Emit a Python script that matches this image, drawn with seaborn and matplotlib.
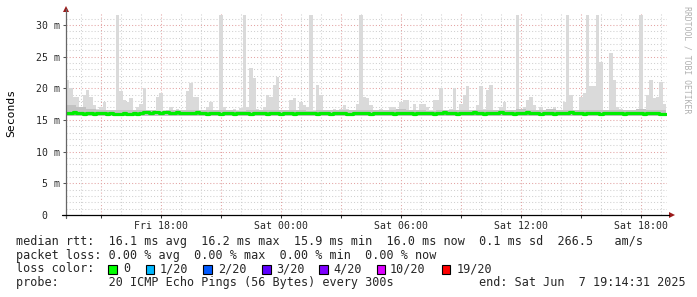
import numpy as np
import pandas as pd
import matplotlib
matplotlib.use("Agg")
import matplotlib.pyplot as plt
import seaborn as sns
from matplotlib.patches import Rectangle, Polygon
from matplotlib.lines import Line2D

# ---------------- data (ms, 10-minute steps over 30 hours) ----------------
smoke_hi = [
    21.3, 20.0, 18.7, 18.7, 17.1, 18.9, 19.7, 18.7, 17.4, 16.8, 17.1, 17.9,
    16.6, 16.3, 16.6, 31.6, 19.5, 18.2, 17.9, 18.4, 16.6, 17.1, 17.6, 20.0,
    16.6, 16.6, 16.6, 18.7, 19.2, 16.6, 16.6, 17.1, 16.6, 16.8, 16.6, 16.6,
    19.5, 20.8, 18.7, 18.7, 16.6, 16.6, 17.1, 17.9, 16.6, 16.6, 31.6, 17.1,
    16.6, 16.6, 16.8, 16.6, 16.9, 31.6, 17.1, 23.2, 21.6, 16.8, 16.6, 17.1,
    19.0, 18.7, 20.5, 21.8, 16.6, 16.6, 16.6, 18.2, 18.4, 16.6, 17.9, 17.4,
    17.0, 31.6, 16.6, 20.5, 19.0, 16.6, 16.6, 16.6, 16.8, 16.6, 16.8, 17.4,
    16.8, 16.6, 16.6, 17.6, 31.6, 18.7, 18.4, 17.4, 16.6, 16.6, 16.8, 16.6,
    16.6, 17.1, 17.1, 16.6, 17.9, 18.2, 18.2, 16.6, 17.6, 16.6, 17.6, 17.6,
    17.1, 16.6, 18.2, 18.2, 20.0, 16.6, 16.6, 16.8, 20.0, 16.6, 17.6, 19.0,
    20.3, 16.6, 16.6, 17.4, 20.3, 16.8, 19.7, 20.5, 16.6, 16.6, 17.1, 17.9,
    16.6, 16.6, 16.6, 31.6, 16.6, 17.1, 18.2, 18.7, 17.4, 16.6, 17.1, 16.6,
    16.6, 16.8, 17.1, 16.6, 16.6, 17.9, 31.6, 19.0, 16.6, 16.6, 18.7, 19.2,
    31.6, 20.3, 20.3, 31.6, 24.2, 16.6, 16.6, 25.5, 21.3, 17.1, 16.8, 16.6,
    16.6, 16.6, 16.6, 16.6, 31.6, 16.6, 19.0, 21.3, 18.4, 18.7, 21.0, 17.6,
]

# darker inner smoke (30-minute steps)
smoke_mid = [
    17.4, 17.0, 16.7, 16.5, 16.5, 16.6, 16.5, 16.6, 16.5, 16.4,
    16.5, 16.5, 16.6, 16.5, 16.5, 16.5, 16.6, 16.4, 16.5, 16.5,
    16.5, 16.6, 16.5, 16.5, 16.4, 16.5, 16.6, 16.5, 16.5, 16.5,
    16.6, 16.5, 16.5, 16.7, 16.5, 16.5, 16.4, 16.5, 16.6, 16.5,
    16.5, 16.5, 16.6, 16.5, 16.5, 16.7, 16.6, 16.5, 16.8, 16.6,
    16.5, 16.6, 16.5, 16.5, 16.5, 16.6, 16.5, 16.7, 16.5, 16.6,
]

# lower edge of the smoke (hourly steps)
smoke_lo = [
    15.6, 15.6, 15.7, 15.6, 15.6, 15.7, 15.6, 15.6, 15.6, 15.7,
    15.6, 15.6, 15.6, 15.6, 15.7, 15.6, 15.6, 15.6, 15.6, 15.7,
    15.6, 15.6, 15.6, 15.7, 15.6, 15.6, 15.6, 15.6, 15.6, 15.6,
]

median_rtt = [
    16.1, 16.1, 16.2, 16.1, 16.1, 16.0, 16.1, 16.1, 16.0, 16.1, 16.1, 16.1,
    16.0, 16.1, 16.0, 16.0, 16.0, 16.1, 16.0, 16.0, 16.1, 16.0, 16.1, 16.2,
    16.2, 16.1, 16.2, 16.2, 16.1, 16.2, 16.2, 16.1, 16.1, 16.2, 16.1, 16.1,
    16.1, 16.1, 16.1, 16.2, 16.1, 16.1, 16.0, 16.1, 16.1, 16.1, 16.0, 16.1,
    16.1, 16.1, 16.0, 16.1, 16.1, 16.1, 16.1, 16.0, 16.1, 16.1, 16.1, 16.1,
    16.0, 16.1, 16.1, 16.1, 16.0, 16.1, 16.1, 16.1, 16.0, 16.1, 16.1, 16.1,
    16.1, 16.1, 16.1, 16.0, 16.1, 16.1, 16.1, 16.0, 16.1, 16.1, 16.1, 16.1,
    16.0, 16.0, 16.1, 16.1, 16.1, 16.1, 16.1, 16.0, 16.1, 16.1, 16.1, 16.1,
    16.1, 16.1, 16.0, 16.1, 16.1, 16.1, 16.1, 16.1, 16.0, 16.1, 16.1, 16.1,
    16.1, 16.1, 16.0, 16.1, 16.1, 16.2, 16.1, 16.1, 16.1, 16.0, 16.1, 16.1,
    16.1, 16.1, 16.2, 16.1, 16.1, 16.0, 16.1, 16.1, 16.1, 16.1, 16.2, 16.1,
    16.1, 16.1, 16.0, 16.1, 16.1, 16.1, 16.2, 16.1, 16.1, 16.1, 16.0, 16.1,
    16.1, 16.1, 16.0, 16.1, 16.1, 16.1, 16.1, 16.2, 16.1, 16.1, 16.1, 16.0,
    16.1, 16.1, 16.1, 16.1, 16.0, 16.1, 16.1, 16.1, 16.1, 16.1, 16.1, 16.0,
    16.1, 16.1, 16.1, 16.1, 16.1, 16.0, 16.1, 16.1, 16.1, 16.1, 16.0, 16.0,
]

start_hour = -10.758          # Fri 13:14:31, hours relative to Sat 00:00
span_hours = 30.0
x_tick_hours = [-6, 0, 6, 12, 18]
x_tick_labels = ["Fri 18:00", "Sat 00:00", "Sat 06:00", "Sat 12:00", "Sat 18:00"]
y_tick_values = [0, 5, 10, 15, 20, 25, 30]
y_tick_labels = ["0  ", "5 m", "10 m", "15 m", "20 m", "25 m", "30 m"]
loss_labels = ["0", "1/20", "2/20", "3/20", "4/20", "10/20", "19/20"]
loss_colors = ["#00ff00", "#00b8ff", "#0059ff", "#5e00ff", "#7e00ff", "#dd00ff", "#ff0000"]

legend_line1 = "median rtt:  16.1 ms avg  16.2 ms max  15.9 ms min  16.0 ms now  0.1 ms sd  266.5   am/s"
legend_line2 = "packet loss: 0.00 % avg  0.00 % max  0.00 % min  0.00 % now"
legend_line4 = "probe:       20 ICMP Echo Pings (56 Bytes) every 300s"
legend_end = "end: Sat Jun  7 19:14:31 2025"

# ---------------- styling ----------------
sns.set_theme(style="white")
plt.rcParams["font.family"] = ["DejaVu Sans Mono", "DejaVu Sans"]

W, H = 697, 297
fig = plt.figure(figsize=(W / 100, H / 100), dpi=100)
fig.patch.set_facecolor("white")

def fx(x):
    return x / W

def fy(y):
    return 1 - y / H

ax_left, ax_right, ax_top, ax_bottom = 66, 667, 13, 215
ax = fig.add_axes([fx(ax_left), fy(ax_bottom), (ax_right - ax_left) / W, (ax_bottom - ax_top) / H])
px_per_ms = 31.667 / 5
x_per_hour = 20.0
xmin = start_hour
xmax = start_hour + (ax_right - ax_left) / x_per_hour
ymax = (ax_bottom - ax_top) / px_per_ms
ax.set_xlim(xmin, xmax)
ax.set_ylim(0, ymax)
ax.set_facecolor("white")

# grid
dot = (0, (1, 2))
for h in range(int(np.ceil(xmin)), int(np.floor(xmax)) + 1):
    col = "#e3a3a3" if h % 3 == 0 else "#d0d0d0"
    ax.axvline(h, color=col, lw=0.75, ls=dot, zorder=0)
for v in range(1, int(ymax) + 1):
    col = "#e3a3a3" if v % 5 == 0 else "#d0d0d0"
    ax.axhline(v, color=col, lw=0.75, ls=dot, zorder=0)

# smoke
n = len(smoke_hi)
step = span_hours / n
edges = start_hour + np.arange(n + 1) * step
hi = np.append(smoke_hi, smoke_hi[-1])
mid = np.repeat(smoke_mid, n // len(smoke_mid))
mid = np.append(mid, mid[-1])
lo = np.repeat(smoke_lo, n // len(smoke_lo))
lo = np.append(lo, lo[-1])
ax.fill_between(edges, lo, hi, step="post", color="#dadada", lw=0, zorder=1)
ax.fill_between(edges, lo, mid, step="post", color="#c2c2c2", lw=0, zorder=2)

df = pd.DataFrame({"t": edges, "rtt": np.append(median_rtt, median_rtt[-1])})
sns.lineplot(data=df, x="t", y="rtt", ax=ax, color="#00ee00", lw=2.3,
             drawstyle="steps-post", zorder=3, legend=False)
ax.set_xlabel("")
ax.set_ylabel("")

# ticks
ax.set_xticks(x_tick_hours)
ax.set_xticklabels(x_tick_labels)
ax.set_xticks([h for h in range(-9, 20, 3) if h % 6 != 0], minor=True)
ax.set_yticks(y_tick_values)
ax.set_yticklabels(y_tick_labels)
ax.tick_params(axis="x", which="both", direction="out", length=2, width=0.75,
               color="#333333", labelsize=7.1, pad=2.5, bottom=True)
ax.tick_params(axis="y", which="both", direction="out", length=2.5, width=0.75,
               color="#555555", labelsize=7.1, pad=2.0, left=True)
for sp in ax.spines.values():
    sp.set_visible(False)

# axis lines & arrows (figure pixel coordinates)
fig.add_artist(Line2D([fx(66), fx(66)], [fy(218), fy(9)], color="#666666", lw=0.9))
fig.add_artist(Line2D([fx(62), fx(669)], [fy(215), fy(215)], color="black", lw=0.9))
fig.add_artist(Polygon([(fx(63), fy(12)), (fx(69), fy(12)), (fx(66), fy(6))],
                       closed=True, color="#9b1a1a", lw=0))
fig.add_artist(Polygon([(fx(669), fy(212)), (fx(669), fy(218)), (fx(675), fy(215))],
                       closed=True, color="#9b1a1a", lw=0))

# y label & watermark
fig.text(fx(11), fy(113), "Seconds", rotation=90, ha="center", va="center",
         fontsize=8.2, color="black")
fig.text(fx(687), fy(60), "RRDTOOL / TOBI OETIKER", rotation=270, ha="center",
         va="center", fontsize=5.9, color="#b0b0b0")

# legend text
fs = 8.5
fig.text(fx(16), fy(241.3), legend_line1, ha="left", va="center", fontsize=fs)
fig.text(fx(16), fy(255.0), legend_line2, ha="left", va="center", fontsize=fs)
fig.text(fx(16), fy(269.0), "loss color:", ha="left", va="center", fontsize=fs)
box_x = [108.3, 145.7, 203.0, 262.0, 319.3, 376.7, 441.7]
text_x = [123.0, 160.0, 218.0, 276.0, 333.5, 390.0, 456.7]
for bx, tx, lab, col in zip(box_x, text_x, loss_labels, loss_colors):
    fig.add_artist(Rectangle((fx(bx), fy(273.5)), 8.5 / W, 9 / H, facecolor=col,
                             edgecolor="black", lw=0.8))
    fig.text(fx(tx), fy(269.0), lab, ha="left", va="center", fontsize=fs)
fig.text(fx(16), fy(282.7), legend_line4, ha="left", va="center", fontsize=fs)
fig.text(fx(479.3), fy(282.7), legend_end, ha="left", va="center", fontsize=fs)

fig.savefig("out.png", dpi=100, facecolor="white")
